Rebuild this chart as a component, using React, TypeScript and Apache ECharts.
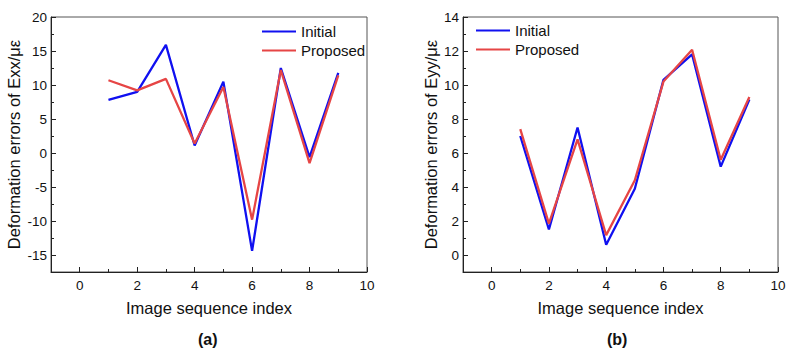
import React, { useEffect, useRef } from "react";
import * as echarts from "echarts";

const xIndex = [1, 2, 3, 4, 5, 6, 7, 8, 9];
const exxInitial = [7.8, 9.0, 15.9, 1.1, 10.5, -14.4, 12.5, -0.6, 11.8];
const exxProposed = [10.7, 9.2, 10.9, 1.4, 9.7, -9.8, 12.2, -1.5, 11.4];
const eyyInitial = [7.0, 1.5, 7.5, 0.6, 3.9, 10.3, 11.8, 5.2, 9.15];
const eyyProposed = [7.4, 1.85, 6.8, 1.17, 4.4, 10.2, 12.07, 5.6, 9.3];

const xTicks = [0, 2, 4, 6, 8, 10];
const xMinor = [1, 3, 5, 7, 9];
const yTicksA = [-15, -10, -5, 0, 5, 10, 15, 20];
const yMinorA = [-12.5, -7.5, -2.5, 2.5, 7.5, 12.5, 17.5];
const yTicksB = [0, 2, 4, 6, 8, 10, 12, 14];
const yMinorB = [1, 3, 5, 7, 9, 11, 13];

const seriesNames = ["Initial", "Proposed"];
const panelLabels = ["(a)", "(b)"];
const yTitles = ["Deformation errors of Exx/\u03bc\u03b5", "Deformation errors of Eyy/\u03bc\u03b5"];
const xTitle = "Image sequence index";

const BLUE = "#1010f0";
const RED = "#e64545";
const FONT = "'Liberation Sans', Arial, sans-serif";

export default function App() {
  const ref = useRef<HTMLDivElement>(null);
  useEffect(() => {
    if (!ref.current) return;
    const chart = echarts.init(ref.current, undefined, { renderer: "svg" });
    const zip = (ys: number[]) => ys.map((y, i) => [xIndex[i], y]);

    const grids = [
      { left: 51, top: 17, width: 316, height: 255 },
      { left: 463, top: 17, width: 315, height: 255 },
    ];
    const yRanges = [
      { min: -17.5, max: 20, ticks: yTicksA, minor: yMinorA, gap: 29 },
      { min: -1, max: 14, ticks: yTicksB, minor: yMinorB, gap: 24 },
    ];

    const xAxes: any[] = [];
    const yAxes: any[] = [];
    grids.forEach((_, g) => {
      xAxes.push({
        type: "value", gridIndex: g, min: -1, max: 10, position: "bottom",
        name: xTitle, nameLocation: "middle", nameGap: 27,
        nameTextStyle: { fontSize: 16.5, color: "#111", fontFamily: FONT },
        axisLine: { show: true, onZero: false, lineStyle: { color: "#222", width: 1 } },
        axisTick: { show: true, inside: true, length: 5, customValues: xTicks, lineStyle: { color: "#222" } },
        axisLabel: { show: true, customValues: xTicks, margin: 6, fontSize: 13.5, color: "#111", fontFamily: FONT },
        splitLine: { show: false },
      });
      xAxes.push({
        type: "value", gridIndex: g, min: -1, max: 10, position: "bottom",
        axisLine: { show: false, onZero: false },
        axisTick: { show: true, inside: true, length: 3, customValues: xMinor, lineStyle: { color: "#222" } },
        axisLabel: { show: false },
        splitLine: { show: false },
      });
      const r = yRanges[g];
      yAxes.push({
        type: "value", gridIndex: g, min: r.min, max: r.max, position: "left",
        name: yTitles[g], nameLocation: "middle", nameGap: r.gap, nameRotate: 90,
        nameTextStyle: { fontSize: 16.5, color: "#111", fontFamily: FONT },
        axisLine: { show: true, onZero: false, lineStyle: { color: "#222", width: 1 } },
        axisTick: { show: true, inside: true, length: 5, customValues: r.ticks, lineStyle: { color: "#222" } },
        axisLabel: { show: true, customValues: r.ticks, margin: 4, fontSize: 13.5, color: "#111", fontFamily: FONT },
        splitLine: { show: false },
      });
      yAxes.push({
        type: "value", gridIndex: g, min: r.min, max: r.max, position: "left",
        axisLine: { show: false, onZero: false },
        axisTick: { show: true, inside: true, length: 3, customValues: r.minor, lineStyle: { color: "#222" } },
        axisLabel: { show: false },
        splitLine: { show: false },
      });
    });

    const mk = (name: string, data: number[], g: number, color: string) => ({
      type: "line", name, xAxisIndex: g * 2, yAxisIndex: g * 2,
      data: zip(data), showSymbol: false, symbol: "none",
      lineStyle: { color, width: 2.3 }, itemStyle: { color },
    });

    chart.setOption({
      animation: false,
      backgroundColor: "#fff",
      textStyle: { fontFamily: FONT },
      grid: grids.map((p) => ({ ...p, show: true, borderColor: "#555", borderWidth: 1, backgroundColor: "transparent" })),
      xAxis: xAxes,
      yAxis: yAxes,
      legend: [
        { left: 262, top: 24, orient: "vertical", itemWidth: 34, itemHeight: 2, itemGap: 4, icon: "rect", data: seriesNames, textStyle: { fontSize: 15, color: "#111", fontFamily: FONT }, padding: 0 },
        { left: 476, top: 23, orient: "vertical", itemWidth: 34, itemHeight: 2, itemGap: 4, icon: "rect", data: seriesNames, textStyle: { fontSize: 15, color: "#111", fontFamily: FONT }, padding: 0 },
      ],
      graphic: [
        { type: "text", left: 198, top: 331, style: { text: panelLabels[0], font: `bold 16px ${FONT}`, fill: "#111" } },
        { type: "text", left: 607, top: 331, style: { text: panelLabels[1], font: `bold 16px ${FONT}`, fill: "#111" } },
      ],
      series: [
        mk(seriesNames[0], exxInitial, 0, BLUE),
        mk(seriesNames[1], exxProposed, 0, RED),
        mk(seriesNames[0], eyyInitial, 1, BLUE),
        mk(seriesNames[1], eyyProposed, 1, RED),
      ],
    });
    return () => chart.dispose();
  }, []);
  return <div ref={ref} style={{ width: 793, height: 355, position: "absolute", left: 0, top: 0 }} />;
}
